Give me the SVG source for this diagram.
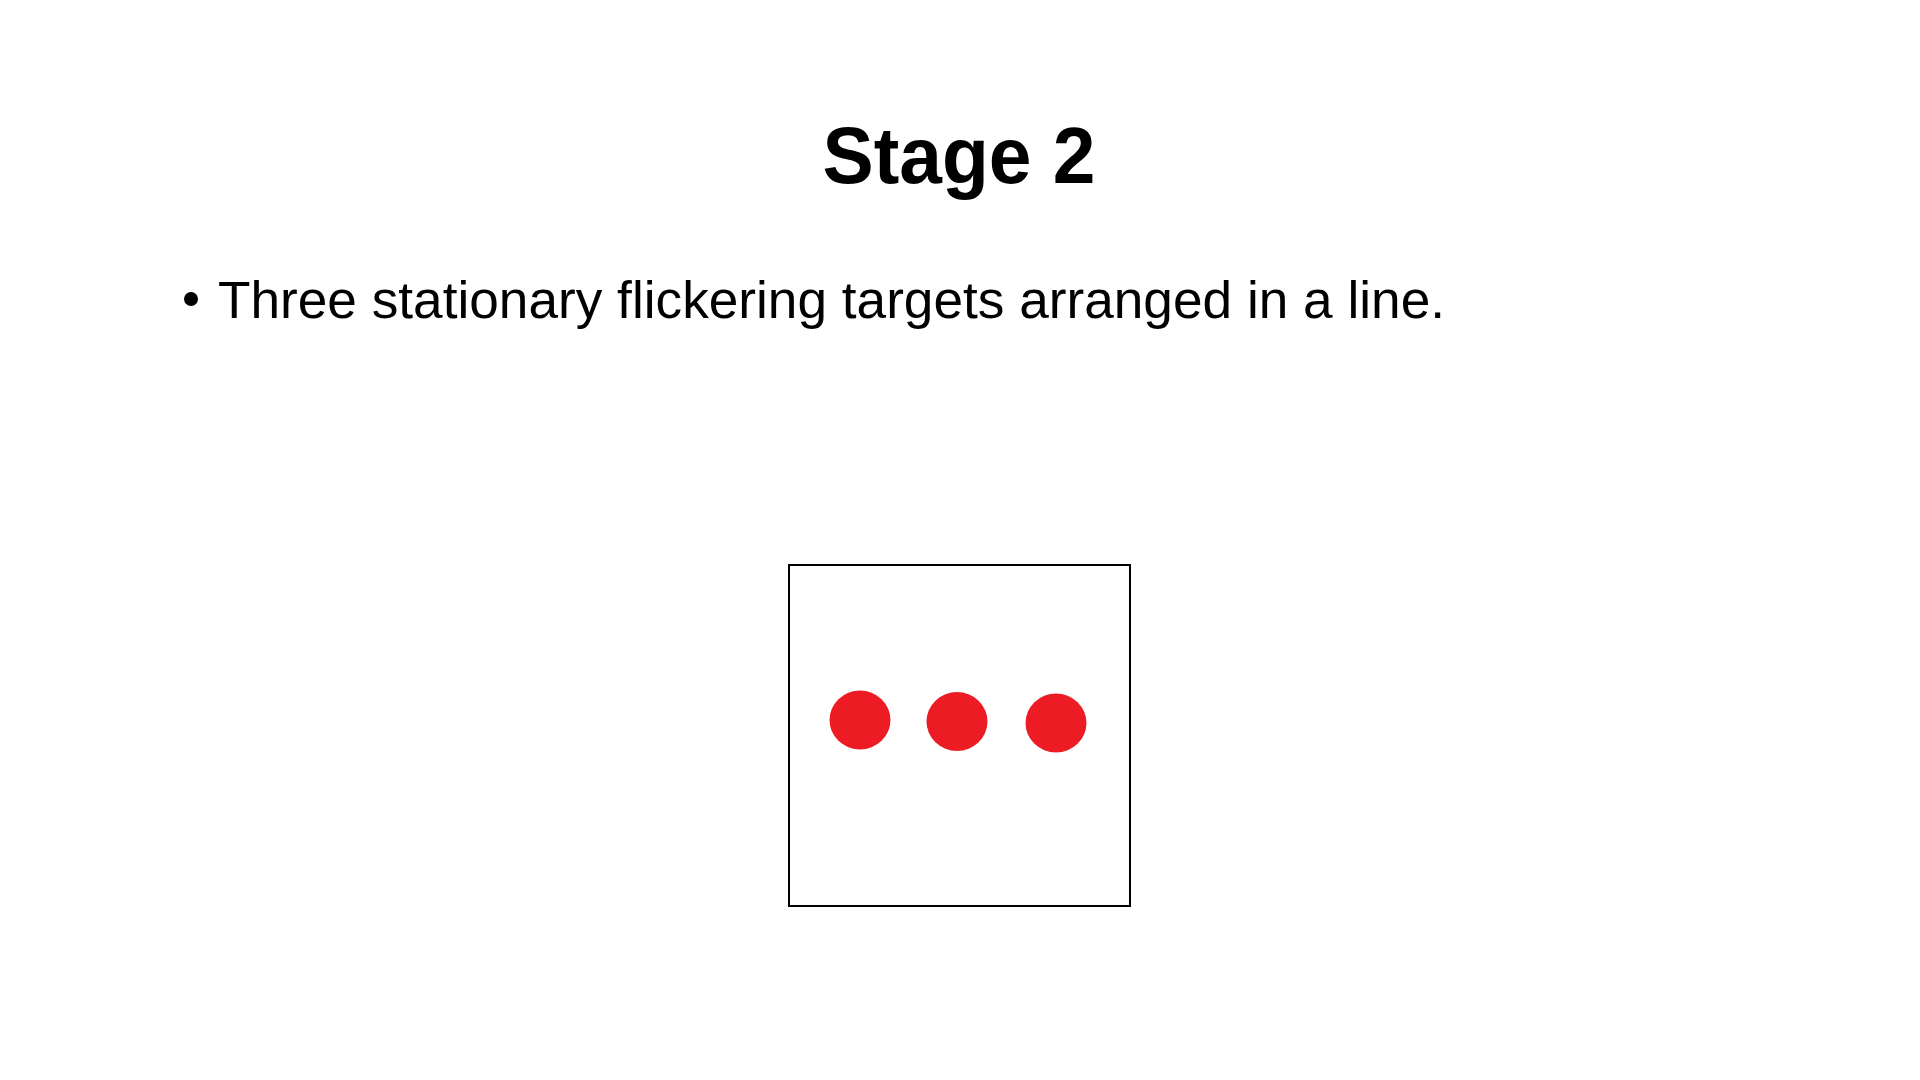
<svg xmlns="http://www.w3.org/2000/svg" width="1920" height="1080" viewBox="0 0 1920 1080">
<style>
.title{font-family:"Liberation Sans",Arial,sans-serif;font-weight:bold;font-size:80px;fill:#000}
.body{font-family:"Liberation Sans",Arial,sans-serif;font-size:51px;fill:#000}
.target{fill:#ED1C24}
</style>
<rect width="1920" height="1080" fill="#fff"/>
<g id="title">
<text class="title" x="959" y="183" text-anchor="middle" textLength="273" lengthAdjust="spacingAndGlyphs">Stage 2</text>
</g>
<g id="bullet">
<circle cx="191" cy="299" r="7" fill="#000"/>
<text class="body" x="218" y="318" textLength="1227" lengthAdjust="spacingAndGlyphs">Three stationary flickering targets arranged in a line.</text>
</g>
<g id="display">
<rect x="789" y="565" width="341" height="341" fill="#fff" stroke="#000" stroke-width="2"/>
</g>
<g id="target1"><ellipse class="target" cx="860" cy="720" rx="30.5" ry="29.5"/></g>
<g id="target2"><ellipse class="target" cx="957" cy="721.5" rx="30.5" ry="29.5"/></g>
<g id="target3"><ellipse class="target" cx="1056" cy="723" rx="30.5" ry="29.5"/></g>
<g id="connectors"></g>
</svg>
